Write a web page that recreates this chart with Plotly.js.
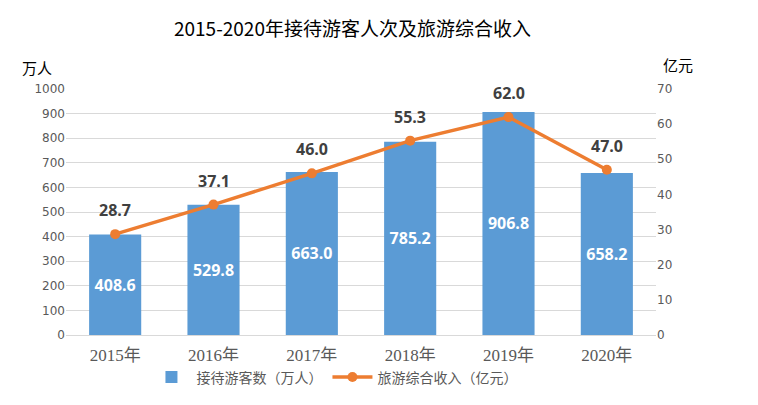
<!DOCTYPE html>
<html><head><meta charset="utf-8">
<script src="https://cdn.plot.ly/plotly-3.0.1.min.js"></script>
<style>body{margin:0;background:#fff}#chart{width:758px;height:405px}</style>
</head><body><div id="chart"></div>
<script>
const categories = ["2015年","2016年","2017年","2018年","2019年","2020年"];
const visitors = [408.6, 529.8, 663.0, 785.2, 906.8, 658.2];
const income = [28.7, 37.1, 46.0, 55.3, 62.0, 47.0];
const visitorsName = "接待游客数（万人）";
const incomeName = "旅游综合收入（亿元）";

const cjk = '"Noto Sans CJK SC", "Open Sans", sans-serif';
const bars = {
  type: 'bar', x: categories, y: visitors, name: visitorsName,
  marker: {color: '#5B9BD5'}, width: 0.53,
  text: visitors.map(v => v.toFixed(1)), textposition: 'inside', insidetextanchor: 'middle',
  textfont: {color: '#ffffff', size: 16, family: '"Open Sans", sans-serif', weight: 'bold'},
  hoverinfo: 'none'
};
const line = {
  type: 'scatter', mode: 'lines+markers', x: categories, y: income, yaxis: 'y2', name: incomeName,
  line: {color: '#ED7D31', width: 3.5}, marker: {color: '#ED7D31', size: 10},
  hoverinfo: 'none', cliponaxis: false
};
const ph = 405 - 89 - 67;
const anns = categories.map((c, i) => ({
  x: c, y: income[i], xref: 'x', yref: 'y2', yshift: 24, showarrow: false,
  text: '<b>' + income[i].toFixed(1) + '</b>',
  font: {color: '#404040', size: 16, family: '"Open Sans", sans-serif'}
}));
anns.push({x: (20 - 66) / 590, y: (338 - 67) / ph, xref: 'paper', yref: 'paper', yanchor: 'middle', xanchor: 'left', showarrow: false, text: '万人', font: {family: cjk, size: 15, color: '#000'}});
anns.push({x: (661 - 66) / 590, y: (338 - 64) / ph, xref: 'paper', yref: 'paper', yanchor: 'middle', xanchor: 'left', showarrow: false, text: '亿元', font: {family: cjk, size: 15, color: '#000'}});
const layout = {
  width: 758, height: 405,
  margin: {l: 66, r: 102, t: 89, b: 67},
  paper_bgcolor: '#fff', plot_bgcolor: '#fff',
  title: {text: '2015-2020年接待游客人次及旅游综合收入', x: 0.465, xanchor: 'center', y: 0.928, yanchor: 'middle',
          font: {family: cjk, size: 19, color: '#000'}},
  showlegend: true,
  legend: {orientation: 'h', x: 0.455, xanchor: 'center', y: (338 - 381) / ph, yanchor: 'middle',
           font: {family: cjk, size: 14, color: '#595959'}, traceorder: 'normal', itemwidth: 40},
  xaxis: {type: 'category', tickfont: {family: '"Liberation Serif", "Noto Sans CJK SC", serif', size: 17, color: '#595959'},
          showline: true, linecolor: '#d9d9d9', ticks: 'outside', ticklen: 5, tickcolor: 'rgba(0,0,0,0)', fixedrange: true},
  yaxis: {range: [0, 1000], dtick: 100, showgrid: true, gridcolor: '#d9d9d9', zeroline: false,
          tickfont: {family: '"DejaVu Sans", sans-serif', size: 12, color: '#595959'}, ticks: '', automargin: false},
  yaxis2: {range: [0, 70], dtick: 10, overlaying: 'y', side: 'right', showgrid: false, zeroline: false,
           tickfont: {family: '"DejaVu Sans", sans-serif', size: 12, color: '#595959'}, automargin: false},
  annotations: anns
};
Plotly.newPlot('chart', [bars, line], layout, {staticPlot: true});
</script></body></html>
